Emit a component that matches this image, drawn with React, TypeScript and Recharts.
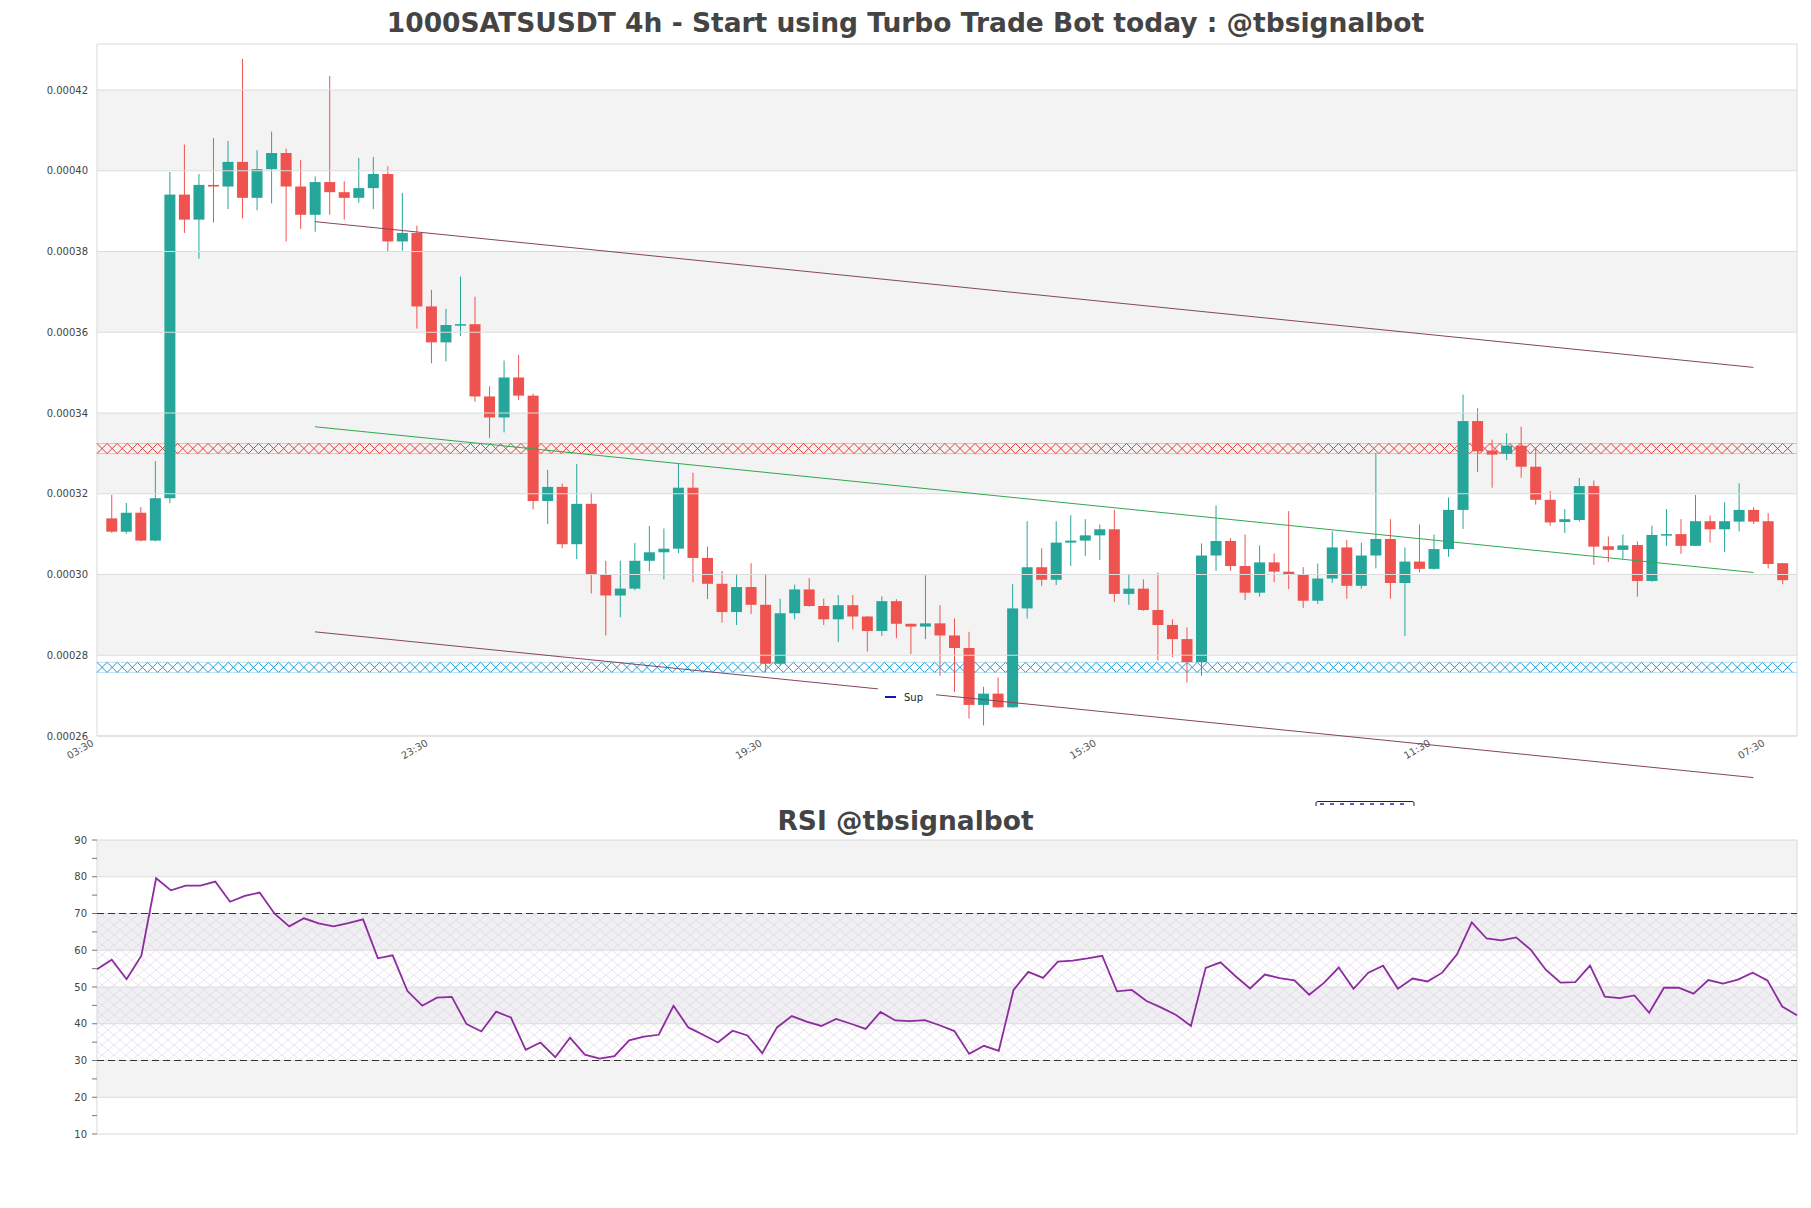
import React from 'react';
import { ComposedChart, Bar, Line, XAxis, YAxis, ReferenceArea, ReferenceLine } from 'recharts';

// 4h candles, 1000SATSUSDT
const opens = [
  0.0003139, 0.0003106, 0.0003153, 0.0003084, 0.0003189, 0.0003941, 0.0003879, 0.0003965, 0.0003961, 0.0004022,
  0.0003933, 0.0004004, 0.0004044, 0.0003961, 0.0003891, 0.0003972, 0.0003947, 0.0003933, 0.0003957, 0.0003992,
  0.0003825, 0.0003846, 0.0003664, 0.0003575, 0.0003618, 0.000362, 0.0003441, 0.0003389, 0.0003488, 0.0003443,
  0.0003182, 0.0003217, 0.0003075, 0.0003175, 0.0003001, 0.0002948, 0.0002965, 0.0003034, 0.0003055, 0.0003064,
  0.0003215, 0.0003041, 0.0002977, 0.0002907, 0.0002969, 0.0002925, 0.0002779, 0.0002904, 0.0002963, 0.0002922,
  0.0002889, 0.0002924, 0.0002896, 0.000286, 0.0002934, 0.0002878, 0.0002871, 0.0002879, 0.0002849, 0.0002818,
  0.0002677, 0.0002705, 0.0002671, 0.0002916, 0.0003018, 0.0002987, 0.0003079, 0.0003084, 0.0003097, 0.0003112,
  0.0002952, 0.0002965, 0.0002912, 0.0002875, 0.000284, 0.0002783, 0.0003047, 0.0003083, 0.0003021, 0.0002955,
  0.000303, 0.0003007, 0.0002999, 0.0002935, 0.000299, 0.0003067, 0.0002972, 0.0003047, 0.0003088, 0.0002979,
  0.0003032, 0.0003014, 0.0003063, 0.000316, 0.000338, 0.0003307, 0.0003299, 0.0003319, 0.0003267, 0.0003185,
  0.000313, 0.0003135, 0.0003219, 0.000307, 0.0003061, 0.0003073, 0.0002984, 0.0003098, 0.00031, 0.0003071,
  0.0003132, 0.0003112, 0.0003131, 0.000316, 0.0003132, 0.0003028,
];
const highs = [
  0.0003197, 0.0003177, 0.0003167, 0.0003281, 0.0003997, 0.0004065, 0.0003992, 0.0004081, 0.0004074, 0.0004277,
  0.0004051, 0.0004097, 0.0004055, 0.0004027, 0.0003986, 0.0004235, 0.0003974, 0.0004032, 0.0004034, 0.0004011,
  0.0003945, 0.0003864, 0.0003705, 0.0003658, 0.0003738, 0.0003688, 0.0003466, 0.000353, 0.0003544, 0.0003448,
  0.0003259, 0.0003225, 0.0003274, 0.0003203, 0.0003034, 0.0003034, 0.0003078, 0.000312, 0.0003114, 0.0003275,
  0.0003252, 0.0003069, 0.0003009, 0.0003002, 0.0003028, 0.0003002, 0.000294, 0.0002975, 0.0002991, 0.000294,
  0.0002949, 0.0002949, 0.0002897, 0.0002946, 0.0002939, 0.0002878, 0.0002998, 0.0002924, 0.0002891, 0.0002858,
  0.0002722, 0.0002745, 0.0002976, 0.0003132, 0.0003065, 0.0003132, 0.0003147, 0.0003137, 0.0003124, 0.000316,
  0.0003002, 0.0002988, 0.0003005, 0.0002889, 0.0002869, 0.0003077, 0.0003171, 0.000309, 0.0003099, 0.0003072,
  0.0003052, 0.0003157, 0.0003018, 0.0003027, 0.0003107, 0.0003086, 0.0003079, 0.0003301, 0.0003137, 0.0003067,
  0.0003124, 0.0003099, 0.0003191, 0.0003446, 0.0003412, 0.0003334, 0.000335, 0.0003366, 0.0003314, 0.0003207,
  0.0003162, 0.0003239, 0.0003233, 0.0003094, 0.0003099, 0.0003082, 0.0003121, 0.0003162, 0.0003137, 0.0003197,
  0.0003146, 0.0003179, 0.0003226, 0.0003167, 0.0003152, 0.0003028,
];
const lows = [
  0.0003103, 0.0003101, 0.0003082, 0.0003082, 0.0003177, 0.0003846, 0.0003782, 0.0003872, 0.0003905, 0.0003882,
  0.0003902, 0.0003919, 0.0003825, 0.0003856, 0.0003849, 0.0003891, 0.0003879, 0.0003921, 0.0003905, 0.00038,
  0.0003802, 0.0003609, 0.0003523, 0.0003528, 0.0003591, 0.0003428, 0.0003338, 0.0003352, 0.0003432, 0.0003161,
  0.0003125, 0.0003065, 0.0003038, 0.0002953, 0.0002849, 0.0002894, 0.0002961, 0.0003008, 0.0002988, 0.0003053,
  0.0002981, 0.0002939, 0.0002881, 0.0002875, 0.0002902, 0.0002757, 0.0002774, 0.0002889, 0.000292, 0.0002875,
  0.0002833, 0.0002864, 0.0002809, 0.0002848, 0.0002842, 0.0002803, 0.000284, 0.0002749, 0.0002709, 0.0002643,
  0.0002626, 0.000267, 0.000267, 0.0002891, 0.0002972, 0.0002974, 0.0003021, 0.0003046, 0.0003036, 0.0002932,
  0.0002925, 0.000291, 0.0002787, 0.0002796, 0.0002732, 0.0002749, 0.0003009, 0.0003009, 0.0002937, 0.0002945,
  0.0002981, 0.0002964, 0.0002917, 0.0002927, 0.0002979, 0.000294, 0.0002965, 0.0003015, 0.000294, 0.0002848,
  0.0003005, 0.0003012, 0.0003044, 0.0003113, 0.0003254, 0.0003215, 0.0003284, 0.000324, 0.0003173, 0.0003121,
  0.0003103, 0.0003131, 0.0003024, 0.0003031, 0.0003039, 0.0002945, 0.0002982, 0.0003071, 0.0003051, 0.0003071,
  0.0003079, 0.0003056, 0.0003107, 0.0003125, 0.0003015, 0.0002976,
];
const closes = [
  0.0003106, 0.0003153, 0.0003084, 0.0003189, 0.0003941, 0.0003879, 0.0003965, 0.0003961, 0.0004022, 0.0003933,
  0.0004004, 0.0004044, 0.0003961, 0.0003891, 0.0003972, 0.0003947, 0.0003933, 0.0003957, 0.0003992, 0.0003825,
  0.0003846, 0.0003664, 0.0003575, 0.0003618, 0.000362, 0.0003441, 0.0003389, 0.0003488, 0.0003443, 0.0003182,
  0.0003217, 0.0003075, 0.0003175, 0.0003001, 0.0002948, 0.0002965, 0.0003034, 0.0003055, 0.0003064, 0.0003215,
  0.0003041, 0.0002977, 0.0002907, 0.0002969, 0.0002925, 0.0002779, 0.0002904, 0.0002963, 0.0002922, 0.0002889,
  0.0002924, 0.0002896, 0.000286, 0.0002934, 0.0002878, 0.0002871, 0.0002879, 0.0002849, 0.0002818, 0.0002677,
  0.0002705, 0.0002671, 0.0002916, 0.0003018, 0.0002987, 0.0003079, 0.0003084, 0.0003097, 0.0003112, 0.0002952,
  0.0002965, 0.0002912, 0.0002875, 0.000284, 0.0002783, 0.0003047, 0.0003083, 0.0003021, 0.0002955, 0.000303,
  0.0003007, 0.0002999, 0.0002935, 0.000299, 0.0003067, 0.0002972, 0.0003047, 0.0003088, 0.0002979, 0.0003032,
  0.0003014, 0.0003063, 0.000316, 0.000338, 0.0003305, 0.0003297, 0.0003319, 0.0003267, 0.0003185, 0.0003129,
  0.0003137, 0.0003219, 0.0003069, 0.0003061, 0.0003072, 0.0002984, 0.0003098, 0.00031, 0.0003071, 0.0003132,
  0.0003112, 0.0003132, 0.000316, 0.0003131, 0.0003026, 0.0002986,
];

const rsiValues = [
  54.8, 57.4, 52.1, 58.5, 79.6, 76.3, 77.6, 77.6, 78.7, 73.2,
  74.8, 75.7, 70.0, 66.5, 68.7, 67.3, 66.5, 67.4, 68.4, 57.8,
  58.6, 48.9, 44.9, 47.1, 47.3, 39.9, 37.9, 43.3, 41.7, 32.9,
  34.9, 30.9, 36.2, 31.6, 30.5, 31.2, 35.5, 36.5, 37.0, 44.9,
  39.0, 37.0, 34.9, 38.1, 36.8, 32.0, 39.0, 42.1, 40.6, 39.4,
  41.3, 40.0, 38.6, 43.2, 40.9, 40.7, 41.0, 39.6, 38.0, 31.8,
  34.0, 32.6, 49.2, 54.1, 52.5, 56.9, 57.2, 57.8, 58.5, 48.8,
  49.2, 46.2, 44.4, 42.4, 39.4, 55.2, 56.7, 53.0, 49.6, 53.4,
  52.4, 51.8, 47.9, 51.1, 55.3, 49.5, 53.9, 55.8, 49.5, 52.3,
  51.5, 53.9, 58.9, 67.6, 63.2, 62.7, 63.5, 60.1, 54.7, 51.2,
  51.3, 55.8, 47.4, 47.0, 47.7, 43.0, 49.8, 49.8, 48.2, 51.9,
  50.9, 52.0, 53.9, 51.8, 44.7, 42.3,
];

const timeTicks = [0, 23, 46, 69, 92, 115];
const timeLabels = ['03:30', '23:30', '19:30', '15:30', '11:30', '07:30'];

const priceDomain = [0.00026, 0.0004314];
const priceTicks = [0.00026, 0.00028, 0.0003, 0.00032, 0.00034, 0.00036, 0.00038, 0.0004, 0.00042];
const priceBands = [[0.00028, 0.0003], [0.00032, 0.00034], [0.00036, 0.00038], [0.0004, 0.00042]];

const channelIdx = [14, 113];
const upperLine = [0.0003874, 0.0003513];
const midLine = [0.0003366, 0.0003005];
const lowerLine = [0.0002858, 0.0002497];
const resistance = 0.0003312;
const support = 0.000277;

const rsiTicks = [10, 15, 20, 25, 30, 35, 40, 45, 50, 55, 60, 65, 70, 75, 80, 85, 90];
const rsiGrid = [20, 30, 40, 50, 60, 70, 80];
const rsiGrayBands = [[20, 30], [80, 90]];
const rsiTintBands = [[40, 50], [60, 70]];

const candles = opens.map((o, i) => ({
  i,
  open: o,
  high: highs[i],
  low: lows[i],
  close: closes[i],
  range: [lows[i], highs[i]],
}));
const rsiData = rsiValues.map((v, i) => ({ i, rsi: v }));

const UP = '#26a69a';
const DOWN = '#ef5350';

function Candle(props: any) {
  const { x, y, width, height, payload } = props;
  const { open, close, high, low } = payload;
  const color = close >= open ? UP : DOWN;
  const k = high > low ? height / (high - low) : 0;
  const yAt = (v: number) => y + (high - v) * k;
  const cx = x + width / 2;
  const top = yAt(Math.max(open, close));
  const bot = yAt(Math.min(open, close));
  return (
    <g>
      <line x1={cx} x2={cx} y1={y} y2={y + height} stroke={color} strokeWidth={1} />
      <rect x={x} y={top} width={width} height={Math.max(bot - top, 1.5)} fill={color} />
    </g>
  );
}

// chain of x markers used for the horizontal levels
const xBand = (color: string) => (props: any) => {
  const { x, y, width, height } = props;
  const n = Math.floor(width / height);
  let d = '';
  for (let k = 0; k < n; k++) {
    const x0 = x + k * height;
    d += `M${x0},${y}L${x0 + height},${y + height}M${x0},${y + height}L${x0 + height},${y}`;
  }
  return (
    <g>
      <path d={d} stroke={color} strokeWidth={1} fill="none" />
      <line x1={x} x2={x + width} y1={y} y2={y} stroke={color} strokeWidth={0.6} strokeOpacity={0.5} />
      <line x1={x} x2={x + width} y1={y + height} y2={y + height} stroke={color} strokeWidth={0.6} strokeOpacity={0.5} />
    </g>
  );
};

function TimeTick(props: any) {
  const { x, y, payload } = props;
  const label = timeLabels[timeTicks.indexOf(payload.value)];
  const tx = x - 17;
  const ty = y + 9;
  return (
    <text x={tx} y={ty} transform={`rotate(-30, ${tx}, ${ty})`} textAnchor="end" fontSize={10} fill="#555">
      {label}
    </text>
  );
}

function RsiTick(props: any) {
  const { x, y, payload } = props;
  if (payload.value % 10 !== 0) return null;
  return (
    <text x={x} y={y} dy={3.5} textAnchor="end" fontSize={10} fill="#444">
      {payload.value}
    </text>
  );
}

const titleStyle = { fontFamily: "'DejaVu Sans', sans-serif" };

export default function App() {
  return (
    <div style={{ position: 'absolute', left: 0, top: 0, width: 1811, height: 1208, background: '#fff', fontFamily: "'DejaVu Sans', sans-serif" }}>
      <svg width={0} height={0} style={{ position: 'absolute' }}>
        <defs>
          <pattern id="rsiHatch" patternUnits="userSpaceOnUse" width={12} height={10}>
            <path d="M0,0L12,10M12,0L0,10" stroke="#dccfe6" strokeWidth={0.6} />
          </pattern>
        </defs>
      </svg>

      <div style={{ position: 'absolute', left: 0, top: 0 }}>
        <ComposedChart width={1811} height={800} data={candles} margin={{ top: 44, right: 14, bottom: 0, left: 0 }}>
          {priceBands.map(([a, b]) => (
            <ReferenceArea key={a} x1={-1} x2={116} y1={a} y2={b} fill="#f3f3f3" fillOpacity={1} stroke="none" />
          ))}
          {priceTicks.map((t) => (
            <ReferenceLine key={t} y={t} stroke="#dcdcdc" strokeWidth={1} />
          ))}
          <ReferenceArea x1={-1} x2={116} y1={priceDomain[0]} y2={priceDomain[1]} fill="none" stroke="#d9d9d9" />
          <XAxis
            dataKey="i"
            type="number"
            domain={[-1, 116]}
            ticks={timeTicks}
            height={64}
            axisLine={false}
            tickLine={false}
            tickSize={0}
            tickMargin={0}
            tick={<TimeTick />}
            interval={0}
          />
          <YAxis
            type="number"
            domain={priceDomain}
            ticks={priceTicks}
            width={97}
            axisLine={false}
            tickLine={false}
            tickSize={0}
            tickMargin={9}
            tick={{ fontSize: 10, fill: '#444' }}
            tickFormatter={(v: number) => v.toFixed(5)}
          />
          <ReferenceArea x1={-1} x2={116} y1={resistance - 0.00000125} y2={resistance + 0.00000125} shape={xBand('#e63b35')} />
          <ReferenceArea x1={-1} x2={116} y1={support - 0.00000125} y2={support + 0.00000125} shape={xBand('#2199d4')} />
          <ReferenceLine
            segment={[{ x: channelIdx[0], y: upperLine[0] }, { x: channelIdx[1], y: upperLine[1] }]}
            stroke="#84465e"
            strokeWidth={1}
            ifOverflow="visible"
          />
          <ReferenceLine
            segment={[{ x: channelIdx[0], y: midLine[0] }, { x: channelIdx[1], y: midLine[1] }]}
            stroke="#2fa84f"
            strokeWidth={1}
            ifOverflow="visible"
          />
          <ReferenceLine
            segment={[{ x: channelIdx[0], y: lowerLine[0] }, { x: channelIdx[1], y: lowerLine[1] }]}
            stroke="#84465e"
            strokeWidth={1}
            ifOverflow="visible"
          />
          <Bar dataKey="range" barSize={11} shape={<Candle />} isAnimationActive={false} />
        </ComposedChart>
      </div>

      <div style={{ position: 'absolute', left: 0, top: 800 }}>
        <ComposedChart width={1811} height={340} data={rsiData} margin={{ top: 40, right: 14, bottom: 6, left: 0 }}>
          {rsiGrayBands.map(([a, b]) => (
            <ReferenceArea key={a} x1={0} x2={115} y1={a} y2={b} fill="#f3f3f3" fillOpacity={1} stroke="none" />
          ))}
          {rsiTintBands.map(([a, b]) => (
            <ReferenceArea key={a} x1={0} x2={115} y1={a} y2={b} fill="#f0f0f2" fillOpacity={1} stroke="none" />
          ))}
          <ReferenceArea x1={0} x2={115} y1={30} y2={70} fill="url(#rsiHatch)" fillOpacity={1} stroke="none" />
          {rsiGrid.map((t) => (
            <ReferenceLine key={t} y={t} stroke="#dcdcdc" strokeWidth={1} />
          ))}
          <ReferenceArea x1={0} x2={115} y1={10} y2={90} fill="none" stroke="#d9d9d9" />
          <XAxis dataKey="i" type="number" domain={[0, 115]} hide />
          <YAxis
            type="number"
            domain={[10, 90]}
            ticks={rsiTicks}
            interval={0}
            width={97}
            axisLine={false}
            tickLine={{ stroke: '#777' }}
            tickSize={5}
            tickMargin={5}
            tick={<RsiTick />}
          />
          <ReferenceLine y={70} stroke="#333" strokeWidth={1.2} strokeDasharray="7 4" />
          <ReferenceLine y={30} stroke="#333" strokeWidth={1.2} strokeDasharray="7 4" />
          <Line dataKey="rsi" type="linear" stroke="#8d2c9e" strokeWidth={1.8} dot={false} isAnimationActive={false} />
        </ComposedChart>
      </div>

      <svg width={1811} height={1208} style={{ position: 'absolute', left: 0, top: 0, pointerEvents: 'none' }}>
        <text x={905.5} y={31.5} textAnchor="middle" fontSize={26.5} fontWeight="bold" fill="#444" style={titleStyle}>
          1000SATSUSDT 4h - Start using Turbo Trade Bot today : @tbsignalbot
        </text>
        <text x={905.5} y={829.5} textAnchor="middle" fontSize={26.5} fontWeight="bold" fill="#444" style={titleStyle}>
          RSI @tbsignalbot
        </text>
        <rect x={878} y={688} width={58} height={17} fill="#fff" />
        <line x1={885} x2={896} y1={697} y2={697} stroke="#1616b8" strokeWidth={2} />
        <text x={904} y={700.5} fontSize={10} fill="#222">Sup</text>
        <path d="M1316,806L1316,803Q1316,801.5 1318,801.5L1412,801.5Q1414,801.5 1414,803L1414,806" stroke="#222" strokeWidth={1} fill="none" />
        <line x1={1320} x2={1410} y1={804} y2={804} stroke="#2a2aa8" strokeWidth={1.5} strokeDasharray="4 6" />
      </svg>
    </div>
  );
}
